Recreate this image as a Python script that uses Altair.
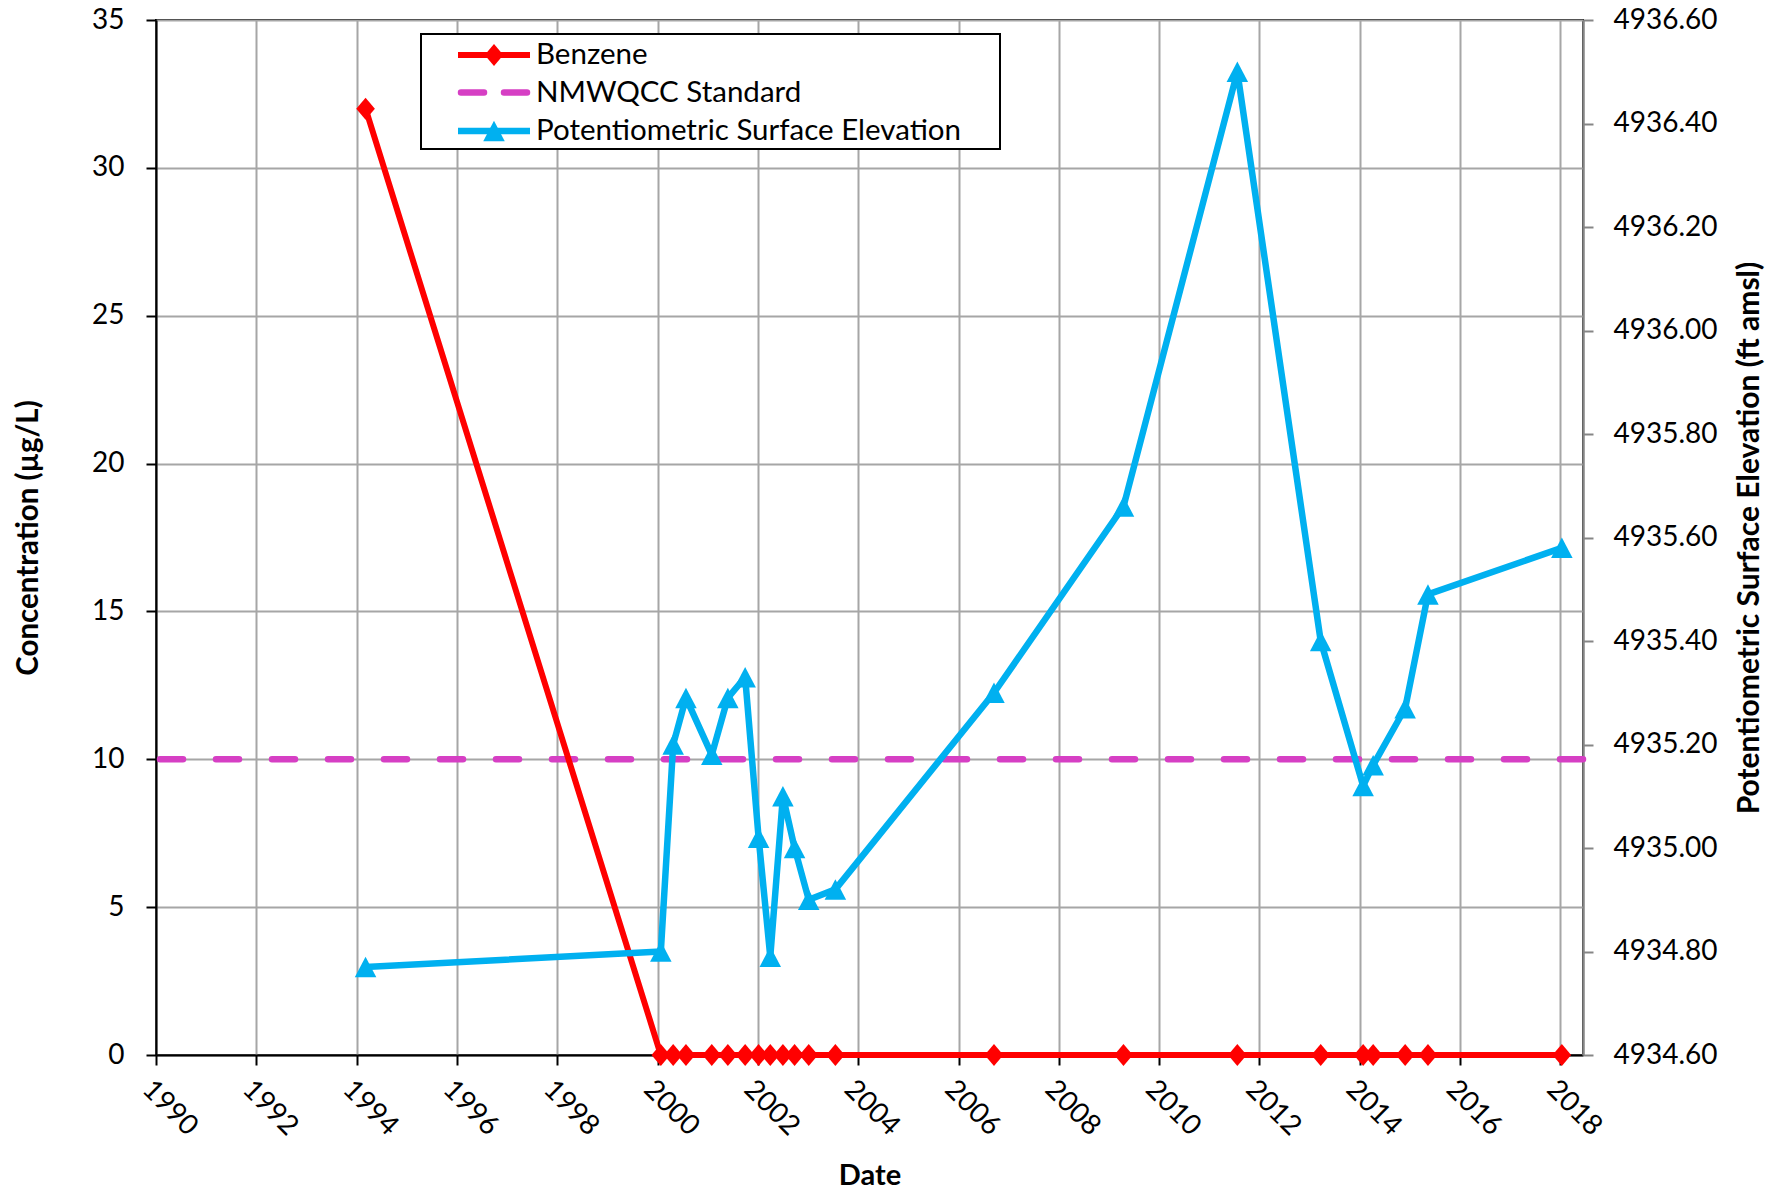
import altair as alt
import pandas as pd

# Sampling dates shared by both monitored series
dates = [
    "1994-03-07",
    "2000-01-25", "2000-04-24", "2000-07-26", "2001-01-30", "2001-05-27",
    "2001-09-30", "2002-01-06", "2002-04-01", "2002-07-02", "2002-09-25",
    "2003-01-06", "2003-07-19",
    "2006-09-16", "2009-04-16", "2011-07-24", "2013-03-22",
    "2014-01-25", "2014-04-08", "2014-11-27", "2015-05-12", "2018-01-11",
]

# Benzene concentration (ug/L)
benzene = [32, 0, 0, 0, 0, 0, 0, 0, 0, 0, 0, 0, 0, 0, 0, 0, 0, 0, 0, 0, 0, 0]

# Potentiometric surface elevation (ft amsl)
elevation = [
    4934.77,
    4934.80, 4935.20, 4935.29, 4935.18, 4935.29,
    4935.33, 4935.02, 4934.79, 4935.10, 4935.00,
    4934.90, 4934.92,
    4935.30, 4935.66, 4936.50, 4935.40,
    4935.12, 4935.16, 4935.27, 4935.49, 4935.58,
]

standard_value = 10

legend_labels = ["Benzene", "NMWQCC Standard", "Potentiometric Surface Elevation"]

left_ticks = [0, 5, 10, 15, 20, 25, 30, 35]
right_ticks = [round(4934.6 + 0.2 * i, 2) for i in range(11)]
year_ticks = list(range(1990, 2019, 2))

RED = "#FF0000"
BLUE = "#00B0F0"
MAGENTA = "#D63FC4"
GRID = "#A6A6A6"
FONT = "Lato"

W, H = 1427, 1035

DIAMOND = "M-0.85,0L0,-1L0.85,0L0,1Z"
TRIANGLE = "M0,-1L1.05,1L-1.05,1Z"

df = pd.DataFrame({"date": dates, "benzene": benzene, "elevation": elevation})

x_enc = alt.X(
    "date:T",
    scale=alt.Scale(
        type="utc",
        domain=[
            alt.DateTime(year=1990, month=1, date=1, utc=True),
            alt.DateTime(year=2018, month=6, date=14, utc=True),
        ],
    ),
    axis=alt.Axis(
        values=[alt.DateTime(year=y, month=1, date=1, utc=True) for y in year_ticks],
        format="%Y",
        labelAngle=45,
        labelAlign="left",
        labelBaseline="top",
        labelPadding=10,
        labelFont=FONT,
        labelFontSize=28,
        labelColor="black",
        labelOverlap=False,
        labelFlush=False,
        tickSize=10,
        tickWidth=2,
        tickColor="black",
        domainColor="black",
        domainWidth=2,
        grid=True,
        gridColor=GRID,
        gridWidth=2,
        title="Date",
        titleFont=FONT,
        titleFontSize=29,
        titleFontWeight="bold",
        titleColor="black",
        titleX=W / 2,
        titleY=120,
        titleAlign="center",
        titleBaseline="middle",
    ),
)

left_scale = alt.Scale(domain=[0, 35], nice=False, zero=False)
left_axis = alt.Axis(
    values=left_ticks,
    labelFont=FONT,
    labelFontSize=28,
    labelColor="black",
    labelPadding=22,
    tickSize=10,
    tickWidth=2,
    tickColor="black",
    domainColor="black",
    domainWidth=2,
    grid=True,
    gridColor=GRID,
    gridWidth=2,
    title="Concentration (µg/L)",
    titleFont=FONT,
    titleFontSize=29.5,
    titleFontWeight="bold",
    titleColor="black",
    titleAngle=-90,
    titleX=-128,
    titleY=H / 2,
    titleAlign="center",
    titleBaseline="middle",
)

right_scale = alt.Scale(domain=[4934.6, 4936.6], nice=False, zero=False)
right_axis = alt.Axis(
    orient="right",
    values=right_ticks,
    format=".2f",
    labelFont=FONT,
    labelFontSize=28,
    labelColor="black",
    labelPadding=20,
    tickSize=10,
    tickWidth=2,
    tickColor="#868686",
    domainColor="#868686",
    domainWidth=2.5,
    grid=False,
    title="Potentiometric Surface Elevation (ft amsl)",
    titleFont=FONT,
    titleFontSize=30,
    titleFontWeight="bold",
    titleColor="black",
    titleAngle=-90,
    titleX=166,
    titleY=H / 2,
    titleAlign="center",
    titleBaseline="middle",
)

base = alt.Chart(df)

standard = alt.Chart(pd.DataFrame({"v": [standard_value]})).mark_rule(
    color=MAGENTA, strokeWidth=6.5, strokeDash=[23, 33], strokeCap="round"
).encode(y=alt.Y("v:Q", scale=left_scale, axis=left_axis))

benzene_line = base.mark_line(
    color=RED, strokeWidth=6, strokeJoin="round"
).encode(x=x_enc, y=alt.Y("benzene:Q", scale=left_scale, axis=left_axis))

benzene_pts = base.mark_point(
    shape=DIAMOND, size=480, filled=True, color=RED, opacity=1
).encode(x=x_enc, y=alt.Y("benzene:Q", scale=left_scale, axis=left_axis))

left = alt.layer(standard, benzene_line, benzene_pts)

elev_line = base.mark_line(
    color=BLUE, strokeWidth=6.5, strokeJoin="round"
).encode(x=x_enc, y=alt.Y("elevation:Q", scale=right_scale, axis=right_axis))

elev_pts = base.mark_point(
    shape=TRIANGLE, size=420, filled=True, color=BLUE, opacity=1
).encode(x=x_enc, y=alt.Y("elevation:Q", scale=right_scale, axis=right_axis))

right = alt.layer(elev_line, elev_pts)

# Legend box drawn inside the plot area
one = pd.DataFrame({"k": [0]})
box_x0, box_x1, box_y0, box_y1 = 265, 844, 14, 129
row_y = [35, 72.5, 111]
sample_x0, sample_x1, marker_x, text_x = 302, 374, 338, 380

legend_layers = [
    alt.Chart(one).mark_rect(fill="white", stroke="black", strokeWidth=2).encode(
        x=alt.value(box_x0), x2=alt.value(box_x1),
        y=alt.value(box_y0), y2=alt.value(box_y1),
    ),
    alt.Chart(one).mark_rule(color=RED, strokeWidth=6).encode(
        x=alt.value(sample_x0), x2=alt.value(sample_x1), y=alt.value(row_y[0])
    ),
    alt.Chart(one).mark_point(shape=DIAMOND, size=480, filled=True, color=RED, opacity=1).encode(
        x=alt.value(marker_x), y=alt.value(row_y[0])
    ),
    alt.Chart(one).mark_rule(color=MAGENTA, strokeWidth=6.5, strokeDash=[23, 20], strokeCap="round").encode(
        x=alt.value(sample_x0 + 3), x2=alt.value(sample_x1 - 3), y=alt.value(row_y[1])
    ),
    alt.Chart(one).mark_rule(color=BLUE, strokeWidth=6.5).encode(
        x=alt.value(sample_x0), x2=alt.value(sample_x1), y=alt.value(row_y[2])
    ),
    alt.Chart(one).mark_point(shape=TRIANGLE, size=420, filled=True, color=BLUE, opacity=1).encode(
        x=alt.value(marker_x), y=alt.value(row_y[2])
    ),
]
for label, yy in zip(legend_labels, row_y):
    legend_layers.append(
        alt.Chart(pd.DataFrame({"label": [label]})).mark_text(
            align="left", baseline="middle", font=FONT, fontSize=29.5, color="black"
        ).encode(x=alt.value(text_x), y=alt.value(yy), text="label:N")
    )

chart = (
    alt.layer(left, right, *legend_layers)
    .resolve_scale(y="independent")
    .properties(
        width=W,
        height=H,
        autosize=alt.AutoSizeParams(type="none"),
        padding={"left": 156, "top": 20, "right": 192, "bottom": 136},
        background="white",
    )
    .configure_view(stroke="black", strokeWidth=2)
)

chart.save("out.html", embed_options={"renderer": "svg", "actions": False})
